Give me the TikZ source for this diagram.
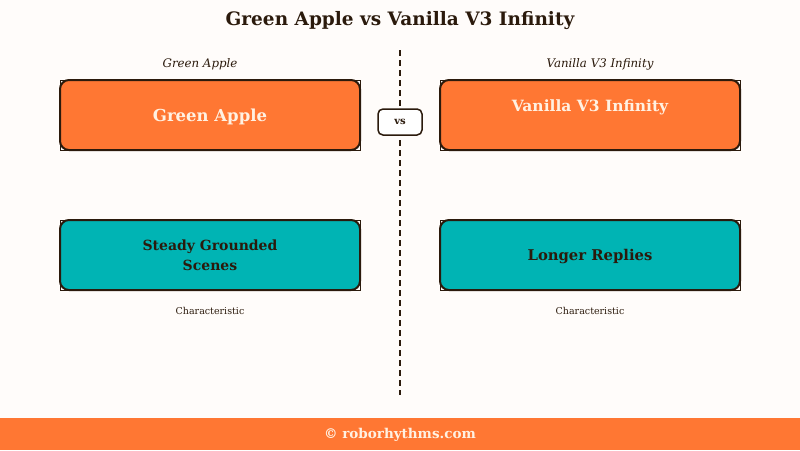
\documentclass[tikz,border=0pt]{standalone}
\usepackage{fontspec}
\setmainfont{DejaVu Serif}
\definecolor{paper}{HTML}{FFFCFA}
\definecolor{ink}{HTML}{2B1A0C}
\definecolor{tangerine}{HTML}{FF7733}
\definecolor{lagoon}{HTML}{00B4B4}
\definecolor{cream}{HTML}{FFF1E2}
\tikzset{
    card/.style={draw=ink, line width=2pt, rounded corners=9pt, minimum width=300pt,
        minimum height=70pt, outer sep=0pt, align=center, font=\bfseries},
    modelcard/.style={card, fill=tangerine, text=cream, font=\bfseries\fontsize{16.5}{19}\selectfont},
    traitcard/.style={card, fill=lagoon, text=ink, font=\bfseries\fontsize{14}{20}\selectfont},
    cardedge/.style={draw=ink, line width=1pt},
    caption/.style={text=ink, font=\itshape\fontsize{11.8}{13}\selectfont},
    smallnote/.style={text=ink, font=\fontsize{9.5}{11}\selectfont},
}

\begin{document}
\begin{tikzpicture}[x=1pt, y=-1pt]

    \fill[paper] (0,0) rectangle (800,450);
    \useasboundingbox (0,0) rectangle (800,450);

    \node[text=ink, font=\bfseries\fontsize{18.5}{22}\selectfont] (title) at (400,21) {Green Apple vs Vanilla V3 Infinity};

    % divider
    \coordinate (divtop) at (400,50);
    \coordinate (divbot) at (400,395);
    \draw[ink, line width=1.5pt, dash pattern=on 6pt off 4pt] (divtop) -- (divbot);

    \node[caption] (capga) at (200,64) {Green Apple};
    \node[caption] (capvv) at (600,64) {Vanilla V3 Infinity};

    \node[modelcard, text height=16pt, text depth=4pt] (ga) at (210,115) {Green Apple};
    \node[modelcard, font=\bfseries\fontsize{15.5}{19}\selectfont, text depth=18pt] (vv) at (590,115) {Vanilla V3 Infinity};
    \draw[cardedge] (ga.north west) rectangle (ga.south east);
    \draw[cardedge] (vv.north west) rectangle (vv.south east);

    \node[draw=ink, line width=1.5pt, fill=white, rounded corners=5pt, minimum width=44pt,
        minimum height=26pt, text=ink, font=\bfseries\fontsize{10}{12}\selectfont] (vs) at (400,122) {vs};

    \node[traitcard] (steady) at (210,255) {\rule{0pt}{12pt}Steady Grounded\\Scenes};
    \node[traitcard, font=\bfseries\fontsize{14.8}{20}\selectfont, text height=15pt, text depth=4pt] (longer) at (590,255) {Longer Replies};
    \draw[cardedge] (steady.north west) rectangle (steady.south east);
    \draw[cardedge] (longer.north west) rectangle (longer.south east);

    \node[smallnote] (chga) at (210,311) {Characteristic};
    \node[smallnote] (chvv) at (590,311) {Characteristic};

    % footer band
    \fill[tangerine] (0,418) rectangle (800,450);
    \node[text=cream, font=\bfseries\fontsize{13.5}{16}\selectfont] (credit) at (400,435) {© roborhythms.com};

\end{tikzpicture}
\end{document}
